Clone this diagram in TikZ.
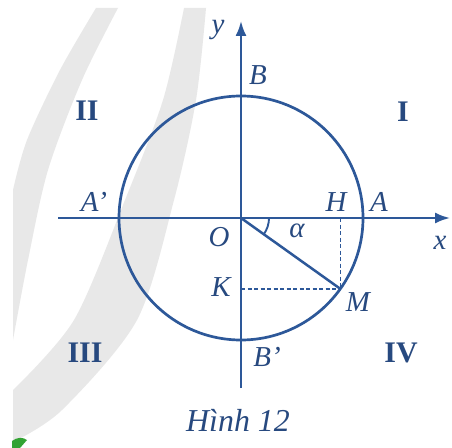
\documentclass[tikz,border=0pt]{standalone}
\usepackage{fontspec}
\setmainfont{Liberation Serif}
\usetikzlibrary{arrows.meta,calc}
\definecolor{figblue}{HTML}{2D5899}
\definecolor{txtblue}{HTML}{27497F}
\definecolor{wm}{HTML}{E8E8E8}
\begin{document}
\begin{tikzpicture}[x=1bp,y=-1bp,
  lbl/.style={text=txtblue,font=\fontsize{29}{32}\selectfont\itshape,inner sep=0pt},
  roman/.style={text=txtblue,font=\fontsize{30}{34}\selectfont\bfseries,inner sep=0pt},
  axis/.style={draw=figblue,line width=2.2bp,-{Latex[length=15bp,width=11bp]}},
  dashline/.style={draw=figblue,line width=1.5bp,dash pattern=on 4bp off 2.5bp}]
\useasboundingbox (0,0) rectangle (452,448);
\fill[white] (0,0) rectangle (452,448);
% watermark bands
\fill[wm] plot[smooth] coordinates {(118,8) (82,80) (48,170) (28,260) (13,340)}
  -- plot[smooth] coordinates {(13,190) (27,140) (60,70) (96,8)} -- cycle;
\fill[wm] plot[smooth] coordinates {(206,8) (196,100) (174,200) (137,320) (62,410) (13,442)}
  -- plot[smooth] coordinates {(13,390) (74,320) (125,200) (163,100) (184,8)} -- cycle;
\fill[green!55!black!80] (12,448) -- (12,441) .. controls (17,437) and (23,437) .. (27,440) -- (20,448) -- cycle;
% points
\coordinate (O) at (241,218);
\coordinate (xs) at (58,218);
\coordinate (xe) at (450,218);
\coordinate (ys) at (241,388);
\coordinate (ye) at (241,21);
\coordinate (M) at ($(O)+(35.5:122)$);
\coordinate (H) at (M |- O);
\coordinate (K) at (O |- M);
% axes
\draw[axis] (xs) -- (xe);
\draw[axis] (ys) -- (ye);
% circle
\draw[figblue,line width=2.7bp] (O) circle[radius=122];
% projections
\draw[dashline] (H) -- (M);
\draw[dashline] (K) -- (M);
\draw[figblue,line width=2.5bp] (O) -- (M);
\draw[figblue,line width=1.9bp] ($(O)+(0:28)$) arc[start angle=0,end angle=35.5,radius=28];
% labels
\node[lbl] (ly) at (218,30) {y};
\node[lbl] (lB) at (258,75) {B};
\node[lbl] (lAp) at (94,202) {A'};
\node[lbl] (lH) at (336,202) {H};
\node[lbl] (lA) at (379,202) {A};
\node[lbl] (lO) at (219,237) {O};
\node[lbl] (lal) at (297,231) {α};
\node[lbl] (lx) at (440,243) {x};
\node[lbl] (lK) at (221,287) {K};
\node[lbl] (lM) at (358,302) {M};
\node[lbl] (lBp) at (267,357) {B'};
\node[roman] (q2) at (87,111) {II};
\node[roman] (q1) at (403,112) {I};
\node[roman] (q3) at (85,353) {III};
\node[roman] (q4) at (401,353) {IV};
\node[lbl,font=\fontsize{32}{36}\selectfont\itshape] (cap) at (238,420) {Hình 12};
\end{tikzpicture}
\end{document}
